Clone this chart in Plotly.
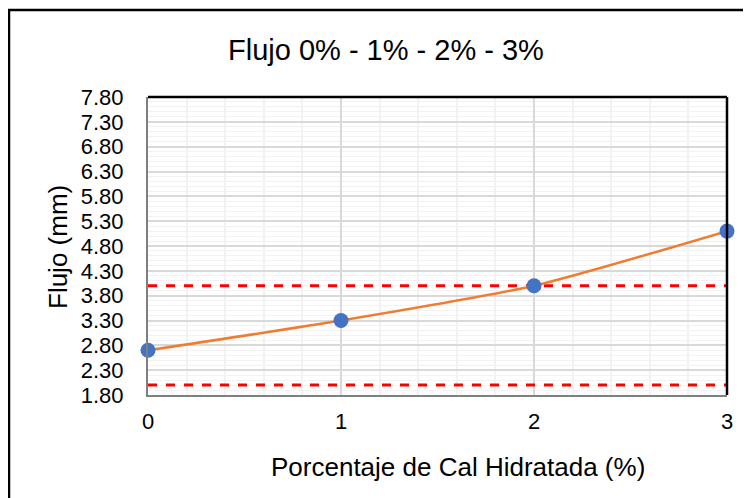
import plotly.graph_objects as go

cal_pct = [0, 1, 2, 3]
flujo_mm = [2.7, 3.3, 4.0, 5.1]
limit_max = 4.0
limit_min = 2.0
limit_x = [0, 3]

title_text = "Flujo 0% - 1% - 2% - 3%"
x_title = "Porcentaje de Cal Hidratada (%)"
y_title = "Flujo (mm)"

FONT = "Liberation Sans, Arial, sans-serif"

# page body has an 8px margin; positions below are in reference pixels
OFF = 8
PL, PR, PT, PB = 148, 727, 97, 395
PW, PH = PR - PL, PB - PT


def px(x):
    return (x - PL) / PW


def py(y):
    return (PB - y) / PH


fig = go.Figure()

fig.add_trace(go.Scatter(x=limit_x, y=[limit_max, limit_max], mode="lines",
                         line=dict(color="#FF0000", width=3, dash="dash"),
                         hoverinfo="skip", showlegend=False, cliponaxis=False))
fig.add_trace(go.Scatter(x=limit_x, y=[limit_min, limit_min], mode="lines",
                         line=dict(color="#FF0000", width=3, dash="dash"),
                         hoverinfo="skip", showlegend=False, cliponaxis=False))
fig.add_trace(go.Scatter(x=cal_pct, y=flujo_mm, mode="lines",
                         line=dict(color="#ED7D31", width=2.5, shape="spline", smoothing=0.6),
                         showlegend=False, cliponaxis=False))
fig.add_trace(go.Scatter(x=cal_pct, y=flujo_mm, mode="markers",
                         marker=dict(color="#4472C4", size=15),
                         showlegend=False, cliponaxis=False))

fig.update_layout(
    width=751 - OFF, height=498 - OFF,
    margin=dict(l=PL - OFF, r=751 - PR, t=PT - OFF, b=498 - PB, pad=0),
    paper_bgcolor="white", plot_bgcolor="white",
    font=dict(family=FONT, color="#000000", size=22),
    showlegend=False,
    xaxis=dict(range=[0, 3], tickmode="array", tickvals=[0, 1, 2, 3],
               ticktext=["0", "1", "2", "3"],
               showgrid=True, gridcolor="#D9D9D9", gridwidth=1.5,
               minor=dict(dtick=0.2, showgrid=True, gridcolor="#F2F2F2", gridwidth=1.5),
               showline=True, linecolor="#7F7F7F", linewidth=2,
               ticks="", ticklabelstandoff=6, zeroline=False,
               tickfont=dict(size=22, family=FONT)),
    yaxis=dict(range=[1.8, 7.8], tick0=1.8, dtick=0.5, tickformat=".2f",
               showgrid=True, gridcolor="#D9D9D9", gridwidth=1.5,
               minor=dict(dtick=0.1, showgrid=True, gridcolor="#F2F2F2", gridwidth=1),
               showline=True, linecolor="#7F7F7F", linewidth=2,
               ticks="", ticklabelstandoff=18, zeroline=False,
               tickfont=dict(size=22, family=FONT)),
    annotations=[
        dict(text=title_text, xref="paper", yref="paper", x=px(386),
             y=py(50), xanchor="center", yanchor="middle",
             showarrow=False, font=dict(size=29, family=FONT)),
        dict(text=x_title, xref="paper", yref="paper", x=px(458),
             y=py(467), xanchor="center", yanchor="middle",
             showarrow=False, font=dict(size=26, family=FONT)),
        dict(text=y_title, xref="paper", yref="paper", x=px(58),
             y=py(247), xanchor="center", yanchor="middle",
             textangle=-90, showarrow=False, font=dict(size=26, family=FONT)),
    ],
    shapes=[
        dict(type="line", xref="paper", yref="paper", x0=0, x1=1, y0=1, y1=1,
             line=dict(color="#000000", width=2.5)),
        dict(type="line", xref="paper", yref="paper", x0=1, x1=1, y0=0, y1=1,
             line=dict(color="#000000", width=2.5)),
        dict(type="rect", xref="paper", yref="paper",
             x0=px(9), x1=1.2, y0=-0.5, y1=py(10),
             line=dict(color="#000000", width=2.5), fillcolor="rgba(0,0,0,0)", layer="below"),
    ],
)

fig.write_html("out.html")
